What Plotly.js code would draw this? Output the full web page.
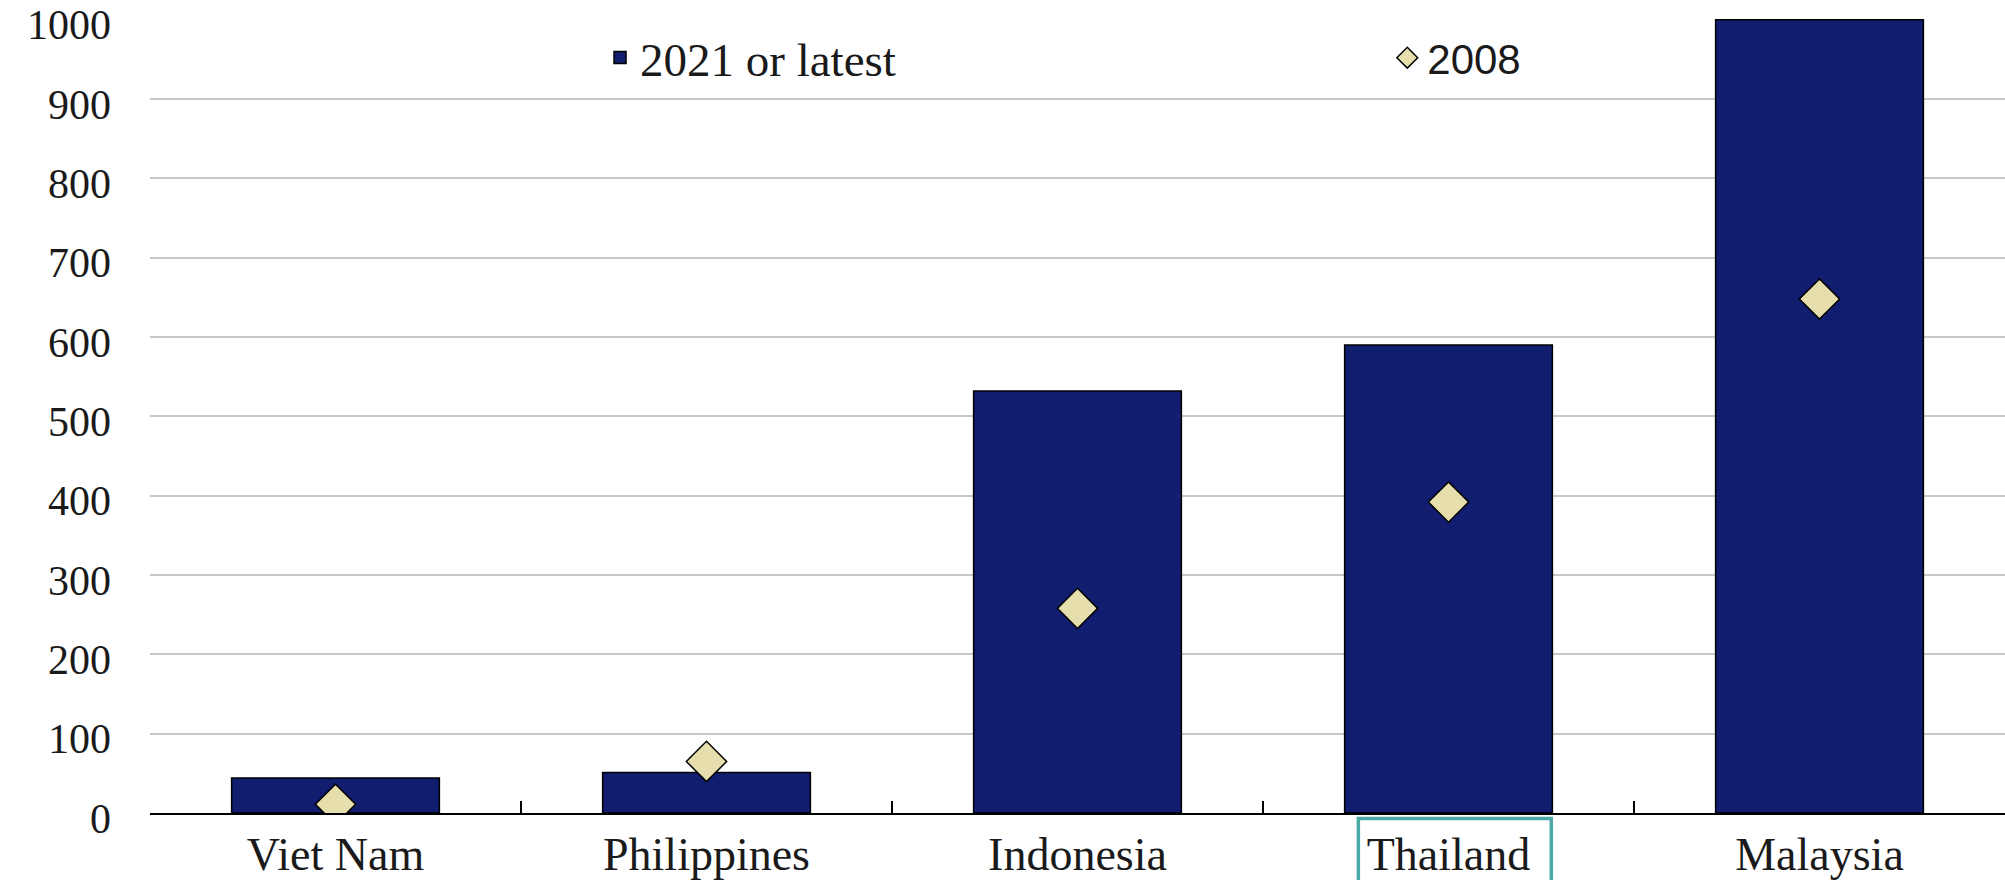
<!DOCTYPE html>
<html>
<head>
<meta charset="utf-8">
<script src="https://cdn.plot.ly/plotly-3.0.1.min.js"></script>
<style>html,body{margin:0;padding:0;background:#fff;}#chart{width:2005px;height:880px;}</style>
</head>
<body>
<div id="chart"></div>
<script>
const categories = ["Viet Nam", "Philippines", "Indonesia", "Thailand", "Malaysia"];
const latest2021 = [44, 51, 532, 590, 1000];
const values2008 = [11, 65, 258, 392, 648];
const yTicks = [0, 100, 200, 300, 400, 500, 600, 700, 800, 900, 1000];
const seriesNames = ["2021 or latest", "2008"];

const traces = [
  {
    type: "bar",
    x: categories,
    y: latest2021,
    name: seriesNames[0],
    legend: "legend",
    marker: { color: "#111d6e", line: { color: "#000000", width: 1.5 } },
    width: 0.56,
    hoverinfo: "x+y"
  },
  {
    type: "scatter",
    mode: "markers",
    x: categories,
    y: values2008,
    name: seriesNames[1],
    legend: "legend2",
    marker: { symbol: "diamond", size: 31, color: "#e6dfad", line: { color: "#000000", width: 1.5 } },
    hoverinfo: "x+y"
  }
];

const layout = {
  width: 2005,
  height: 880,
  margin: { l: 150, r: 0, t: 19, b: 67, pad: 0, autoexpand: false },
  paper_bgcolor: "#ffffff",
  plot_bgcolor: "#ffffff",
  font: { family: "'Liberation Serif', 'Times New Roman', serif", color: "#1a1a1a", size: 44 },
  showlegend: true,
  legend: {
    orientation: "h",
    x: 0.2426,
    xanchor: "left",
    y: 0.951,
    yanchor: "middle",
    bgcolor: "rgba(0,0,0,0)",
    font: { family: "'Liberation Serif', 'Times New Roman', serif", size: 47, color: "#1a1a1a" },
    itemclick: false,
    itemdoubleclick: false
  },
  legend2: {
    orientation: "h",
    x: 0.667,
    xanchor: "left",
    y: 0.951,
    yanchor: "middle",
    bgcolor: "rgba(0,0,0,0)",
    font: { family: "'Liberation Sans', Arial, sans-serif", size: 42, color: "#1a1a1a" },
    itemclick: false,
    itemdoubleclick: false
  },
  xaxis: {
    type: "category",
    range: [-0.5, 4.5],
    automargin: false,
    showline: true,
    linecolor: "#000000",
    linewidth: 2,
    ticks: "inside",
    tickson: "boundaries",
    ticklen: 12,
    tickwidth: 1.5,
    tickcolor: "#000000",
    showgrid: false,
    ticklabeloverflow: "allow",
    tickfont: { family: "'Liberation Serif', 'Times New Roman', serif", size: 46, color: "#1a1a1a" },
    fixedrange: true
  },
  yaxis: {
    range: [0, 1001],
    automargin: false,
    tickvals: yTicks,
    ticktext: yTicks.map(String),
    showgrid: true,
    gridcolor: "#c8c8c8",
    gridwidth: 2,
    zeroline: false,
    showline: false,
    ticks: "",
    ticklabelstandoff: 38,
    ticklabelshift: 5,
    ticklabeloverflow: "allow",
    tickfont: { family: "'Liberation Serif', 'Times New Roman', serif", size: 42, color: "#1a1a1a" },
    fixedrange: true
  },
  shapes: [
    {
      type: "rect",
      xref: "x",
      yref: "paper",
      x0: 2.757,
      x1: 3.277,
      y0: -0.007,
      y1: -0.12,
      line: { color: "#4aaaa5", width: 3.5 },
      fillcolor: "rgba(0,0,0,0)",
      layer: "above"
    }
  ],
  bargap: 0.44
};

Plotly.newPlot("chart", traces, layout, { displayModeBar: false, staticPlot: false });
</script>
</body>
</html>
